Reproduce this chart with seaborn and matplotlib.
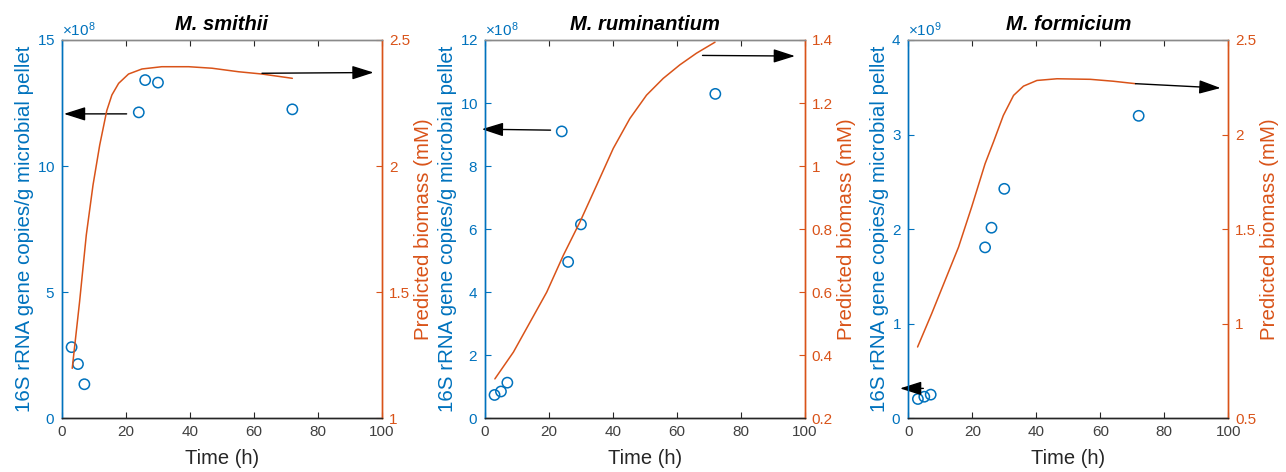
import numpy as np
import pandas as pd
import matplotlib.pyplot as plt
import seaborn as sns

# Sampling times of the qPCR measurements (h)
time_h = [3, 5, 7, 24, 26, 30, 72]

# 16S rRNA gene copies / g microbial pellet
smithii_copies = [2.82e8, 2.15e8, 1.35e8, 12.13e8, 13.41e8, 13.31e8, 12.25e8]
ruminantium_copies = [0.74e8, 0.85e8, 1.13e8, 9.10e8, 4.96e8, 6.15e8, 10.29e8]
formicium_copies = [0.204e9, 0.228e9, 0.25e9, 1.807e9, 2.015e9, 2.426e9, 3.198e9]

# Predicted biomass (mM), model output
smithii_t = [3.2, 5.5, 7.6, 9.7, 11.8, 14.0, 15.6, 17.7, 20.8, 25.0, 31.2, 39.6, 46.9,
             55.2, 62.5, 72.0]
smithii_bio = [1.198, 1.462, 1.727, 1.925, 2.084, 2.22, 2.282, 2.328, 2.365, 2.385, 2.394,
               2.394, 2.388, 2.374, 2.365, 2.348]

ruminantium_t = [3.1, 8.9, 14.1, 19.3, 24.5, 29.7, 34.9, 40.1, 45.3, 50.5, 55.7, 60.9, 66.1, 71.9]
ruminantium_bio = [0.325, 0.41, 0.505, 0.60, 0.717, 0.823, 0.939, 1.056, 1.151, 1.225, 1.278,
                   1.321, 1.358, 1.393]

formicium_t = [2.9, 7.3, 11.5, 15.7, 19.8, 24.0, 26.6, 29.7, 32.9, 36.0, 40.2, 46.5, 56.9,
               64.0, 71.0]
formicium_bio = [0.877, 1.053, 1.229, 1.405, 1.617, 1.846, 1.96, 2.101, 2.207, 2.256, 2.286,
                 2.295, 2.292, 2.282, 2.269]

# Arrows: (tail x, tail y) -> (tip x, tip y)
smithii_left_arrow = [(20.2, 12.07e8), (0.6, 12.07e8)]
smithii_right_arrow = [(62.5, 2.368), (97.4, 2.371)]
ruminantium_left_arrow = [(20.5, 9.14e8), (-1.0, 9.17e8)]
ruminantium_right_arrow = [(68.0, 1.351), (96.9, 1.349)]
formicium_left_arrow = [(4.7, 0.316e9), (-2.6, 0.316e9)]
formicium_right_arrow = [(71.0, 2.269), (97.6, 2.246)]

titles = ["M. smithii", "M. ruminantium", "M. formicium"]

BLUE = "#0072BD"
ORANGE = "#D95319"
GREY = "#262626"

sns.set_theme(style="white")
plt.rcParams['font.family'] = ['Liberation Sans', 'DejaVu Sans']
plt.rcParams['mathtext.fontset'] = 'custom'
plt.rcParams['mathtext.rm'] = 'Liberation Sans'

fig = plt.figure(figsize=(12.86, 4.72), dpi=100)

panels = [
    dict(left=0.0482, copies=smithii_copies, t=smithii_t, bio=smithii_bio,
         ylim=(0, 15e8), yticks=[0, 5e8, 10e8, 15e8], order=8,
         rlim=(1, 2.5), rticks=[1, 1.5, 2, 2.5],
         larrow=smithii_left_arrow, rarrow=smithii_right_arrow),
    dict(left=0.3771, copies=ruminantium_copies, t=ruminantium_t, bio=ruminantium_bio,
         ylim=(0, 12e8), yticks=[0, 2e8, 4e8, 6e8, 8e8, 10e8, 12e8], order=8,
         rlim=(0.2, 1.4), rticks=[0.2, 0.4, 0.6, 0.8, 1.0, 1.2, 1.4],
         larrow=ruminantium_left_arrow, rarrow=ruminantium_right_arrow),
    dict(left=0.7063, copies=formicium_copies, t=formicium_t, bio=formicium_bio,
         ylim=(0, 4e9), yticks=[0, 1e9, 2e9, 3e9, 4e9], order=9,
         rlim=(0.5, 2.5), rticks=[0.5, 1, 1.5, 2, 2.5],
         larrow=formicium_left_arrow, rarrow=formicium_right_arrow),
]

for p, title in zip(panels, titles):
    ax = fig.add_axes([p['left'], 0.1138, 0.2488, 0.8015])
    ax2 = ax.twinx()

    obs = pd.DataFrame({'Time': time_h, 'Copies': p['copies']})
    sns.scatterplot(data=obs, x='Time', y='Copies', ax=ax, s=55, marker='o',
                    facecolors='none', edgecolor=BLUE, linewidth=1.1, zorder=3)

    pred = pd.DataFrame({'Time': p['t'], 'Biomass': p['bio']})
    sns.lineplot(data=pred, x='Time', y='Biomass', ax=ax2, color=ORANGE, linewidth=1.1)

    ax.set_xlim(0, 100)
    ax.set_xticks([0, 20, 40, 60, 80, 100])
    ax.set_ylim(*p['ylim'])
    ax.set_yticks(p['yticks'])
    ax.ticklabel_format(axis='y', style='sci', scilimits=(p['order'], p['order']),
                        useMathText=True)
    ax.yaxis.get_offset_text().set_color(BLUE)
    ax.yaxis.get_offset_text().set_fontsize(11)

    ax2.set_ylim(*p['rlim'])
    ax2.set_yticks(p['rticks'])
    ax2.set_yticklabels([f"{v:g}" for v in p['rticks']])

    ax.set_xlabel('Time (h)', fontsize=14.5, color=GREY, labelpad=7)
    ax.set_ylabel('16S rRNA gene copies/g microbial pellet', fontsize=14.8,
                  color=BLUE, labelpad=2)
    ax2.set_ylabel('Predicted biomass (mM)', fontsize=14.8, color=ORANGE, labelpad=3)
    ax.set_title(title, fontsize=14.5, fontweight='bold', fontstyle='italic',
                 color='black', pad=7)

    # spines and ticks, MATLAB-like box
    for a in (ax, ax2):
        for s in a.spines.values():
            s.set_linewidth(1.0)
        a.spines['bottom'].set_color(GREY)
        a.spines['top'].set_color('#8a8a8a')
        a.spines['left'].set_color(BLUE)
        a.spines['right'].set_color(ORANGE)
    ax.tick_params(axis='x', direction='in', top=True, bottom=True, length=4,
                   width=0.8, colors=GREY, labelsize=11, pad=5)
    ax.tick_params(axis='x', which='both', labelcolor='#404040')
    ax.tick_params(axis='y', direction='in', left=True, length=4, width=0.8,
                   colors=BLUE, labelsize=11, pad=5)
    ax2.tick_params(axis='y', direction='in', right=True, length=4, width=0.8,
                    colors=ORANGE, labelsize=11, pad=5)

    arrow_props = dict(arrowstyle='-|>,head_length=1.1,head_width=0.35',
                       color='black', lw=1.0, shrinkA=0, shrinkB=0)
    ax.annotate('', xy=p['larrow'][1], xytext=p['larrow'][0],
                arrowprops=arrow_props, annotation_clip=False)
    ax2.annotate('', xy=p['rarrow'][1], xytext=p['rarrow'][0],
                 arrowprops=arrow_props, annotation_clip=False)

fig.savefig('out.png', dpi=100)
